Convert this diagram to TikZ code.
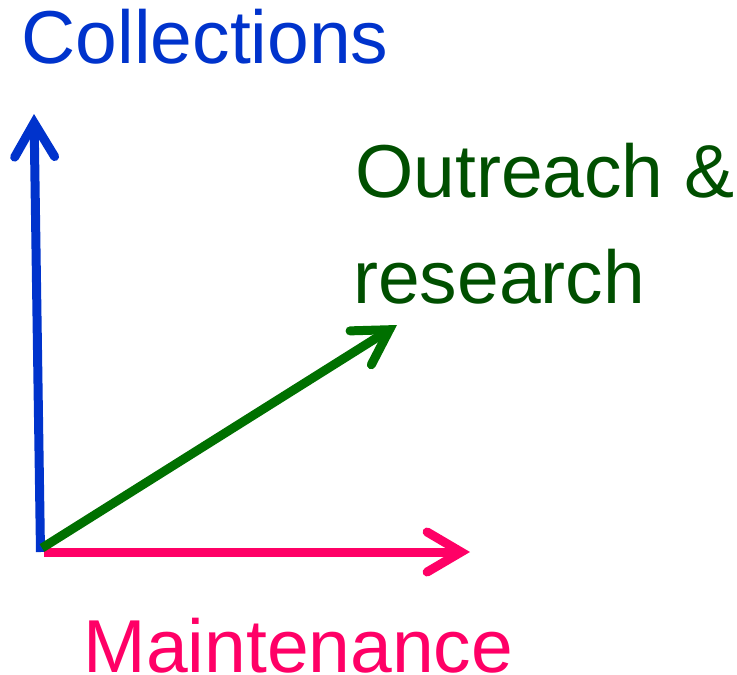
\documentclass[tikz,border=0pt]{standalone}
\usepackage{fontspec}
\setmainfont{Liberation Sans}
\usetikzlibrary{arrows.meta}
\definecolor{cblue}{HTML}{0033CC}
\definecolor{cpink}{HTML}{FF0066}
\definecolor{cgreen}{HTML}{007000}
\definecolor{tgreen}{HTML}{004F00}
\begin{document}
\begin{tikzpicture}[x=1pt,y=-1pt,
  axis/.style={line width=9pt, -{Straight Barb[length=34pt,width=40pt,line join=miter,line cap=round]}},
  lab/.style={anchor=base west, inner sep=0pt, font=\fontsize{75}{106}\selectfont}]
\useasboundingbox (0,0) rectangle (737,675);
\coordinate (o) at (40.5,552);
\coordinate (ctip) at (34,114);
\coordinate (mo) at (44,552);
\coordinate (mtip) at (470,552);
\coordinate (go) at (42,548);
\coordinate (gtip) at (397,325);
\draw[axis, cblue] (o) -- (ctip);
\draw[axis, cpink] (mo) -- (mtip);
\draw[axis, cgreen] (go) -- (gtip);
\node[lab, text=cblue] (coll) at (21.5,63) {Collections};
\node[lab, text=tgreen] (out) at (355,197) {Outreach \&};
\node[lab, text=tgreen] (res) at (353,303) {research};
\node[lab, text=cpink] (main) at (83.5,672) {Maintenance};
\end{tikzpicture}
\end{document}
